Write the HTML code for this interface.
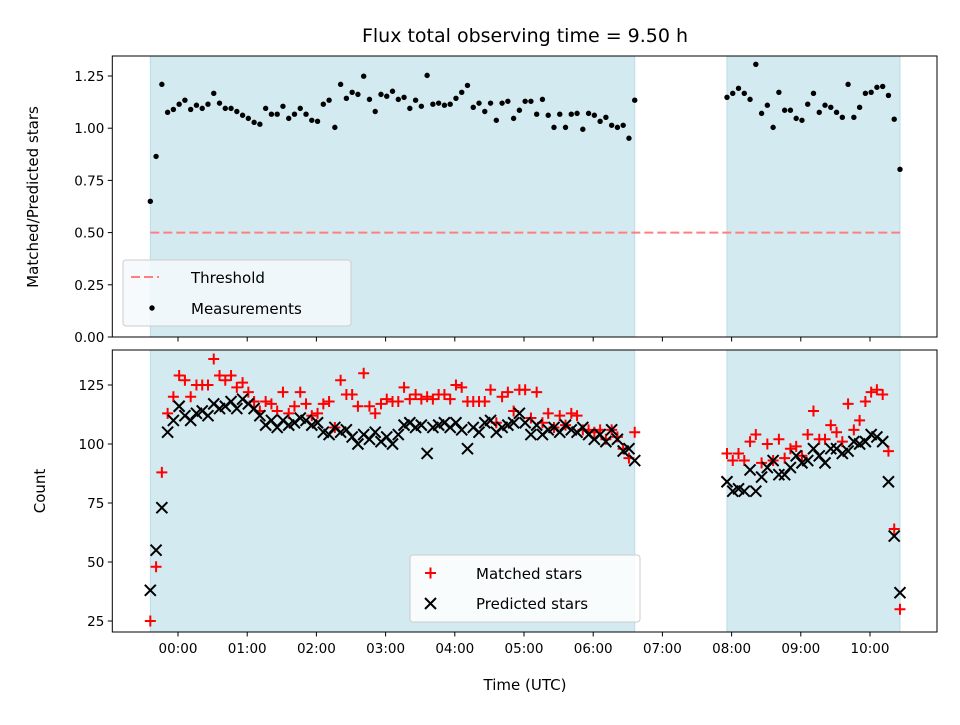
<!DOCTYPE html>
<html><head><meta charset="utf-8"><style>
body{margin:0;background:#fff;}
svg text{font-family:"DejaVu Sans","Liberation Sans",sans-serif;fill:#000;}
</style></head><body>
<svg id="chart" width="960" height="720" xmlns="http://www.w3.org/2000/svg">
<text x="525" y="42" font-size="19" text-anchor="middle">Flux total observing time = 9.50 h</text>
<g id="top"></g>
<g id="bot"></g>
</svg>
<script>
// segment start (hours relative to 00:00) and step of 5 minutes
const segStarts = [-0.4, 7.9333];
const ratioSeg1 = [0.65,0.865,1.21,1.076,1.09,1.115,1.134,1.09,1.11,1.095,1.115,1.167,1.12,1.095,1.095,1.08,1.062,1.047,1.028,1.019,1.095,1.067,1.067,1.105,1.047,1.067,1.095,1.067,1.038,1.033,1.115,1.134,1.004,1.21,1.143,1.172,1.162,1.249,1.138,1.08,1.162,1.153,1.177,1.138,1.148,1.095,1.134,1.105,1.253,1.115,1.12,1.11,1.115,1.143,1.172,1.205,1.1,1.12,1.08,1.12,1.038,1.12,1.129,1.047,1.086,1.129,1.129,1.067,1.138,1.062,1.004,1.067,1.004,1.067,1.071,0.995,1.071,1.062,1.033,1.052,1.014,1.004,1.014,0.952,1.134];
const ratioSeg2 = [1.148,1.167,1.191,1.167,1.138,1.306,1.071,1.11,1.004,1.172,1.086,1.086,1.047,1.038,1.115,1.167,1.076,1.11,1.1,1.076,1.052,1.21,1.052,1.1,1.167,1.172,1.196,1.2,1.157,1.043,0.803];
const predSeg1 = [38,55,73,105,110,116,112,110,113,114,112,117,115,116,118,115,119,117,115,112,108,110,107,110,108,109,111,110,108,109,105,104,107,105,106,103,100,104,102,105,101,103,100,104,108,109,107,108,96,107,108,109,107,109,106,98,107,105,109,110,105,107,108,109,113,109,104,108,104,106,107,105,108,106,105,107,104,102,104,101,106,102,97,98,93];
const predSeg2 = [84,80,81,80,89,80,86,90,93,87,87,90,95,92,93,98,95,92,98,98,96,97,101,100,101,104,103,101,84,61,37];
const matchSeg1 = [25,48,88,113,120,129,127,120,125,125,125,136,129,127,129,124,126,122,118,114,118,117,114,122,113,116,122,117,112,113,117,118,107,127,121,121,116,130,116,113,117,119,118,118,124,119,121,119,120,119,121,121,119,125,124,118,118,118,118,123,109,120,122,114,123,123,111,122,109,113,107,112,108,113,112,106,106,105,106,102,106,103,98,94,105];
const matchSeg2 = [96,93,96,93,101,104,92,100,93,102,94,98,99,95,104,114,102,102,108,105,101,117,106,110,118,122,123,121,97,64,30];
const xTicks = ["00:00","01:00","02:00","03:00","04:00","05:00","06:00","07:00","08:00","09:00","10:00"];
const topTicks = [0,0.25,0.5,0.75,1.0,1.25];
const botTicks = [25,50,75,100,125];
const threshold = 0.5;

const NS="http://www.w3.org/2000/svg";
const L=112.3,R=937;
const X=h=>178+h*69.2;
const Yt=v=>337-v*208.8, Yb=v=>621-(v-25)*2.36;
function mk(tag,attrs,parent){const e=document.createElementNS(NS,tag);for(const k in attrs)e.setAttribute(k,attrs[k]);parent.appendChild(e);return e;}
function times(start,n){const a=[];for(let i=0;i<n;i++)a.push(start+i/12);return a;}
const t1=times(segStarts[0],ratioSeg1.length), t2=times(segStarts[1],ratioSeg2.length);
const tAll=t1.concat(t2);

function panel(g,top,bot){
  [[t1[0],t1[t1.length-1]],[t2[0],t2[t2.length-1]]].forEach(([a,b])=>{
    const r=mk('rect',{x:X(a),y:top,width:X(b)-X(a),height:bot-top,fill:'#d4eaf1',stroke:'#bcdce6','stroke-width':1},g);
    
    
  });
}
function frame(g,top,bot){
  const f=mk('rect',{x:L,y:top,width:R-L,height:bot-top,fill:'none',stroke:'#000','stroke-width':1},g);
  
  
  xTicks.forEach((lab,i)=>{
    const x=X(i);
    mk('line',{x1:x,x2:x,y1:bot,y2:bot+4.5,stroke:'#000'},g);
    if(bot>600){const t=mk('text',{x:x,y:bot+21,'font-size':13.5,'text-anchor':'middle'},g);t.textContent=lab;
      
      }
  });
}
const gt=document.getElementById('top'), gb=document.getElementById('bot');
panel(gt,56,337); panel(gb,350,632);
// threshold
const th=mk('line',{x1:X(tAll[0]),x2:X(tAll[tAll.length-1]),y1:Yt(threshold),y2:Yt(threshold),stroke:'#ff7f7f','stroke-width':2,'stroke-dasharray':'9,4'},gt);


ratioSeg1.concat(ratioSeg2).forEach((v,i)=>{
  const c=mk('circle',{cx:X(tAll[i]),cy:Yt(v),r:2.7,fill:'#000'},gt);
  
  
});
function plus(g,x,y){const p=mk('path',{d:`M${x-5.5} ${y}H${x+5.5}M${x} ${y-5.5}V${y+5.5}`,stroke:'#f00','stroke-width':2,fill:'none'},g);return p;}
function cross(g,x,y){const p=mk('path',{d:`M${x-5.5} ${y-5.5}L${x+5.5} ${y+5.5}M${x-5.5} ${y+5.5}L${x+5.5} ${y-5.5}`,stroke:'#000','stroke-width':2,fill:'none'},g);return p;}
matchSeg1.concat(matchSeg2).forEach((v,i)=>{
  const p=plus(gb,X(tAll[i]),Yb(v));
  
  
});
predSeg1.concat(predSeg2).forEach((v,i)=>{
  const p=cross(gb,X(tAll[i]),Yb(v));
  
  
});
frame(gt,56,337); frame(gb,350,632);
topTicks.forEach(v=>{const y=Yt(v);mk('line',{x1:L,x2:L-4.5,y1:y,y2:y,stroke:'#000'},gt);
  const t=mk('text',{x:L-8,y:y+5,'font-size':13.5,'text-anchor':'end'},gt);t.textContent=v.toFixed(2);
  
  });
botTicks.forEach(v=>{const y=Yb(v);mk('line',{x1:L,x2:L-4.5,y1:y,y2:y,stroke:'#000'},gb);
  const t=mk('text',{x:L-8,y:y+5,'font-size':13.5,'text-anchor':'end'},gb);t.textContent=v;
  
  });
</script>
<g></g>
<svg style="position:absolute;left:0;top:0" width="960" height="720" xmlns="http://www.w3.org/2000/svg">
<text x="38" y="197" font-size="15" text-anchor="middle" transform="rotate(-90 38 197)" style="font-family:'DejaVu Sans',sans-serif">Matched/Predicted stars</text>
<text x="45" y="491" font-size="15" text-anchor="middle" transform="rotate(-90 45 491)" style="font-family:'DejaVu Sans',sans-serif">Count</text>
<text x="525" y="690" font-size="15" text-anchor="middle" style="font-family:'DejaVu Sans',sans-serif">Time (UTC)</text>
<g>
<rect x="123" y="260" width="228" height="66" rx="3" fill="#f5f9fc" fill-opacity="0.85" stroke="#ccc"/>
<line x1="131" x2="159" y1="277" y2="277" stroke="#ff7f7f" stroke-width="2" stroke-dasharray="9,4"/>
<text x="191" y="283" font-size="15" style="font-family:'DejaVu Sans',sans-serif">Threshold</text>
<circle cx="152" cy="308" r="2.7" fill="#000"/>
<text x="191" y="314" font-size="15" style="font-family:'DejaVu Sans',sans-serif">Measurements</text>
</g>
<g>
<rect x="410" y="555" width="230" height="67" rx="3" fill="#fff" fill-opacity="0.85" stroke="#ccc"/>
<path d="M425 573H436M430.5 567.5V578.5" stroke="#f00" stroke-width="2"/>
<text x="476" y="579" font-size="15" style="font-family:'DejaVu Sans',sans-serif">Matched stars</text>
<path d="M425 598L436 609M425 609L436 598" stroke="#000" stroke-width="2"/>
<text x="476" y="609" font-size="15" style="font-family:'DejaVu Sans',sans-serif">Predicted stars</text>
</g>
</svg>
</body></html>
